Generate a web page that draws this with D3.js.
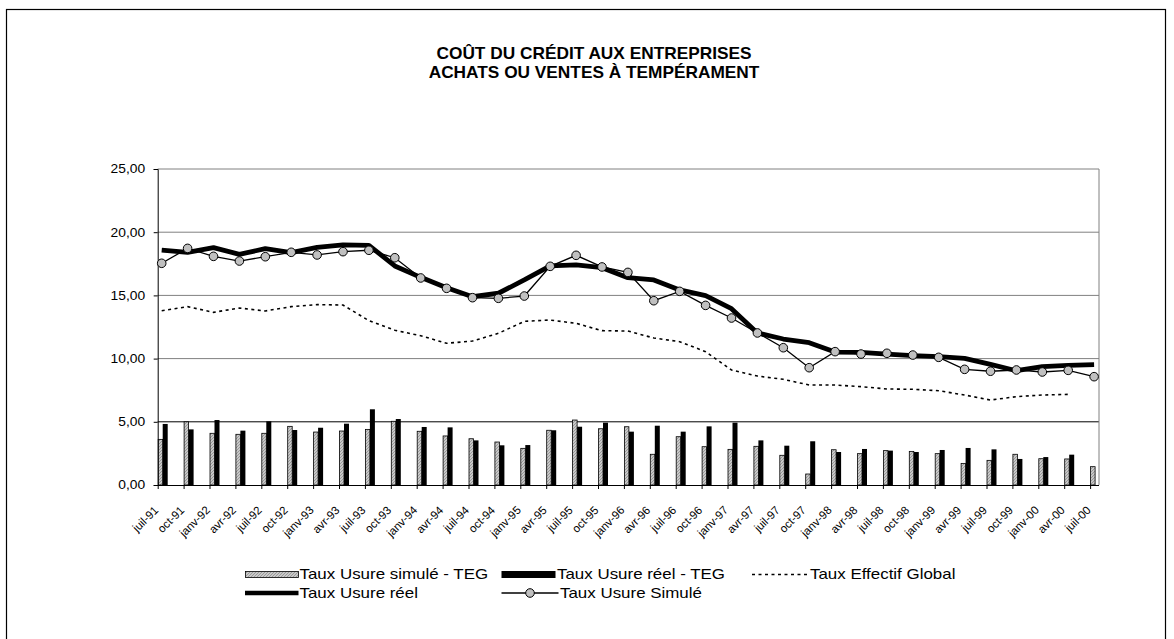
<!DOCTYPE html>
<html>
<head>
<meta charset="utf-8">
<script src="https://cdn.jsdelivr.net/npm/d3@7"></script>
<style>
  body { margin: 0; background: #fff; }
  text { font-family: "Liberation Sans", Arial, sans-serif; fill: #000; }
</style>
</head>
<body>
<svg id="chart" width="1174" height="639"></svg>
<script>
// quarterly categories
var categories = ["juil-91","oct-91","janv-92","avr-92","juil-92","oct-92","janv-93","avr-93","juil-93",
  "oct-93","janv-94","avr-94","juil-94","oct-94","janv-95","avr-95","juil-95","oct-95","janv-96",
  "avr-96","juil-96","oct-96","janv-97","avr-97","juil-97","oct-97","janv-98","avr-98","juil-98",
  "oct-98","janv-99","avr-99","juil-99","oct-99","janv-00","avr-00","juil-00"];

var usureSimuleTEG = [3.61,5.00,4.09,4.01,4.09,4.64,4.19,4.27,4.40,5.04,4.25,3.88,3.66,3.40,2.90,4.33,
  5.14,4.45,4.61,2.43,3.82,3.03,2.82,3.06,2.35,0.87,2.79,2.48,2.72,2.66,2.48,1.71,1.95,2.43,2.08,2.06,1.45];
var usureReelTEG = [4.83,4.40,5.14,4.30,5.04,4.35,4.53,4.85,5.99,5.22,4.59,4.56,3.53,3.14,3.16,4.33,
  4.61,4.93,4.22,4.69,4.22,4.64,4.93,3.53,3.11,3.46,2.61,2.85,2.72,2.61,2.77,2.93,2.82,2.06,2.21,2.40,null];
var tauxEffectifGlobal = [13.79,14.11,13.66,14.00,13.77,14.11,14.27,14.24,13.00,12.24,11.81,11.21,11.39,
  12.00,12.95,13.05,12.79,12.21,12.18,11.63,11.34,10.55,9.10,8.62,8.36,7.91,7.91,7.78,7.60,7.57,7.46,
  7.12,6.72,6.99,7.12,7.17,null];
var usureReel = [18.59,18.41,18.78,18.25,18.70,18.38,18.80,18.99,18.96,17.33,16.43,15.61,14.90,15.17,
  16.22,17.33,17.41,17.19,16.40,16.22,15.43,14.98,13.95,12.03,11.55,11.26,10.52,10.50,10.36,10.23,
  10.15,10.02,9.55,9.04,9.36,9.47,9.52];
var usureSimule = [17.54,18.72,18.09,17.72,18.06,18.41,18.20,18.46,18.57,17.98,16.38,15.56,14.82,14.77,
  14.95,17.30,18.17,17.25,16.82,14.58,15.32,14.21,13.21,12.03,10.86,9.28,10.55,10.36,10.42,10.28,10.10,
  9.15,9.00,9.10,8.94,9.07,8.57];
var yTicks = [0, 5, 10, 15, 20, 25];

var svg = d3.select("#chart");
var plot = {left: 157.7, right: 1099, top: 169, bottom: 485};

// outer border
svg.append("rect")
    .attr("x", 6.5).attr("y", 9.5)
    .attr("width", 1159).attr("height", 640)
    .attr("fill", "none").attr("stroke", "#000").attr("stroke-width", 1.2);

// title
var title = svg.append("text")
    .attr("text-anchor", "middle")
    .attr("transform", "translate(594,0) scale(1.08,1)")
    .style("font-size", "16px").style("font-weight", "bold");
title.append("tspan").attr("x", 0).attr("y", 59).text("COÛT DU CRÉDIT AUX ENTREPRISES");
title.append("tspan").attr("x", 0).attr("y", 78).text("ACHATS OU VENTES À TEMPÉRAMENT");

var x = d3.scalePoint().domain(categories).range([plot.left, 1090.1]);
var y = d3.scaleLinear().domain([0, 25]).range([plot.bottom, plot.top]);

// hatched fill for the simulated bars
var pat = svg.append("defs").append("pattern")
    .attr("id", "hatch").attr("patternUnits", "userSpaceOnUse")
    .attr("width", 3).attr("height", 3);
pat.append("rect").attr("width", 3).attr("height", 3).attr("fill", "#c8c8c8");
pat.append("path").attr("d", "M0,3L3,0").attr("stroke", "#8c8c8c").attr("stroke-width", 0.8);

// gridlines
svg.append("g").selectAll("line")
    .data(yTicks.slice(1))
    .join("line")
    .attr("x1", plot.left).attr("x2", plot.right)
    .attr("y1", function(d) { return y(d); })
    .attr("y2", function(d) { return y(d); })
    .attr("stroke", function(d) { return d === 5 ? "#000" : "#808080"; })
    .attr("stroke-width", 1);

svg.append("line")
    .attr("x1", plot.right).attr("x2", plot.right)
    .attr("y1", plot.top).attr("y2", plot.bottom)
    .attr("stroke", "#808080");

// bars
var bars = svg.append("g");
bars.selectAll("rect.sim")
    .data(usureSimuleTEG)
    .join("rect")
    .attr("class", "sim")
    .attr("x", function(d, i) { return x(categories[i]) + 0.5; })
    .attr("y", function(d) { return y(d); })
    .attr("width", 4.5)
    .attr("height", function(d) { return y(0) - y(d); })
    .attr("fill", "url(#hatch)")
    .attr("stroke", "#000").attr("stroke-width", 0.8);

bars.selectAll("rect.reel")
    .data(usureReelTEG.map(function(d, i) { return {v: d, c: categories[i]}; })
      .filter(function(d) { return d.v != null; }))
    .join("rect")
    .attr("class", "reel")
    .attr("x", function(d) { return x(d.c) + 5; })
    .attr("y", function(d) { return y(d.v); })
    .attr("width", 5)
    .attr("height", function(d) { return y(0) - y(d.v); })
    .attr("fill", "#000");

// axes
var yAxis = svg.append("g")
    .attr("transform", "translate(" + plot.left + ",0)")
    .call(d3.axisLeft(y).tickValues(yTicks).tickSize(4).tickPadding(7)
      .tickFormat(function(d) { return d3.format(".2f")(d).replace(".", ","); }));
yAxis.select(".domain").attr("stroke", "#000");
yAxis.selectAll("text")
    .style("font-size", "12px")
    .attr("transform", "scale(1.15,1)");

var xAxis = svg.append("g")
    .attr("transform", "translate(0," + plot.bottom + ")")
    .call(d3.axisBottom(x).tickSize(4).tickSizeOuter(0));
xAxis.select(".domain").attr("d", "M" + plot.left + ",0.5H" + plot.right);
xAxis.selectAll("text")
    .attr("y", 0).attr("dy", "0.35em")
    .attr("text-anchor", "end")
    .style("font-size", "11.5px")
    .attr("transform", "translate(-2,23) rotate(-45)");

// lines
var lineOf = function(arr) {
  return d3.line()
    .defined(function(d) { return d != null; })
    .x(function(d, i) { return x(categories[i]) + 4; })
    .y(function(d) { return y(d); })(arr);
};

svg.append("path")
    .attr("d", lineOf(tauxEffectifGlobal))
    .attr("fill", "none").attr("stroke", "#000")
    .attr("stroke-width", 1.6).attr("stroke-dasharray", "3,3.5");

svg.append("path")
    .attr("d", lineOf(usureReel))
    .attr("fill", "none").attr("stroke", "#000")
    .attr("stroke-width", 4.8).attr("stroke-linejoin", "round");

svg.append("path")
    .attr("d", lineOf(usureSimule))
    .attr("fill", "none").attr("stroke", "#000")
    .attr("stroke-width", 1.3);

svg.append("g").selectAll("circle")
    .data(usureSimule)
    .join("circle")
    .attr("cx", function(d, i) { return x(categories[i]) + 4; })
    .attr("cy", function(d) { return y(d); })
    .attr("r", 4.3)
    .attr("fill", "#c0c0c0").attr("stroke", "#000").attr("stroke-width", 1);

// legend
var legend = svg.append("g").style("font-size", "14px");
function legendText(lx, ly, label) {
  legend.append("text")
    .attr("transform", "translate(" + lx + "," + ly + ") scale(1.21,1)")
    .attr("dy", "0.35em")
    .text(label);
}
legend.append("rect").attr("x", 245.5).attr("y", 571.5).attr("width", 53).attr("height", 6)
    .attr("fill", "url(#hatch)").attr("stroke", "#000").attr("stroke-width", 0.8);
legendText(299.5, 574.5, "Taux Usure simulé - TEG");
legend.append("rect").attr("x", 501.5).attr("y", 571).attr("width", 54).attr("height", 7)
    .attr("fill", "#000");
legendText(557, 574.5, "Taux Usure réel - TEG");
legend.append("line").attr("x1", 752).attr("x2", 808).attr("y1", 574.5).attr("y2", 574.5)
    .attr("stroke", "#000").attr("stroke-width", 1.6).attr("stroke-dasharray", "3,3.5");
legendText(810, 574.5, "Taux Effectif Global");

legend.append("line").attr("x1", 245).attr("x2", 298.5).attr("y1", 593).attr("y2", 593)
    .attr("stroke", "#000").attr("stroke-width", 4.5);
legendText(299.5, 593.5, "Taux Usure réel");
legend.append("line").attr("x1", 501.5).attr("x2", 558.5).attr("y1", 593).attr("y2", 593)
    .attr("stroke", "#000").attr("stroke-width", 1.3);
legend.append("circle").attr("cx", 530).attr("cy", 593).attr("r", 4.3)
    .attr("fill", "#c0c0c0").attr("stroke", "#000");
legendText(560, 593.5, "Taux Usure Simulé");
</script>
</body>
</html>
